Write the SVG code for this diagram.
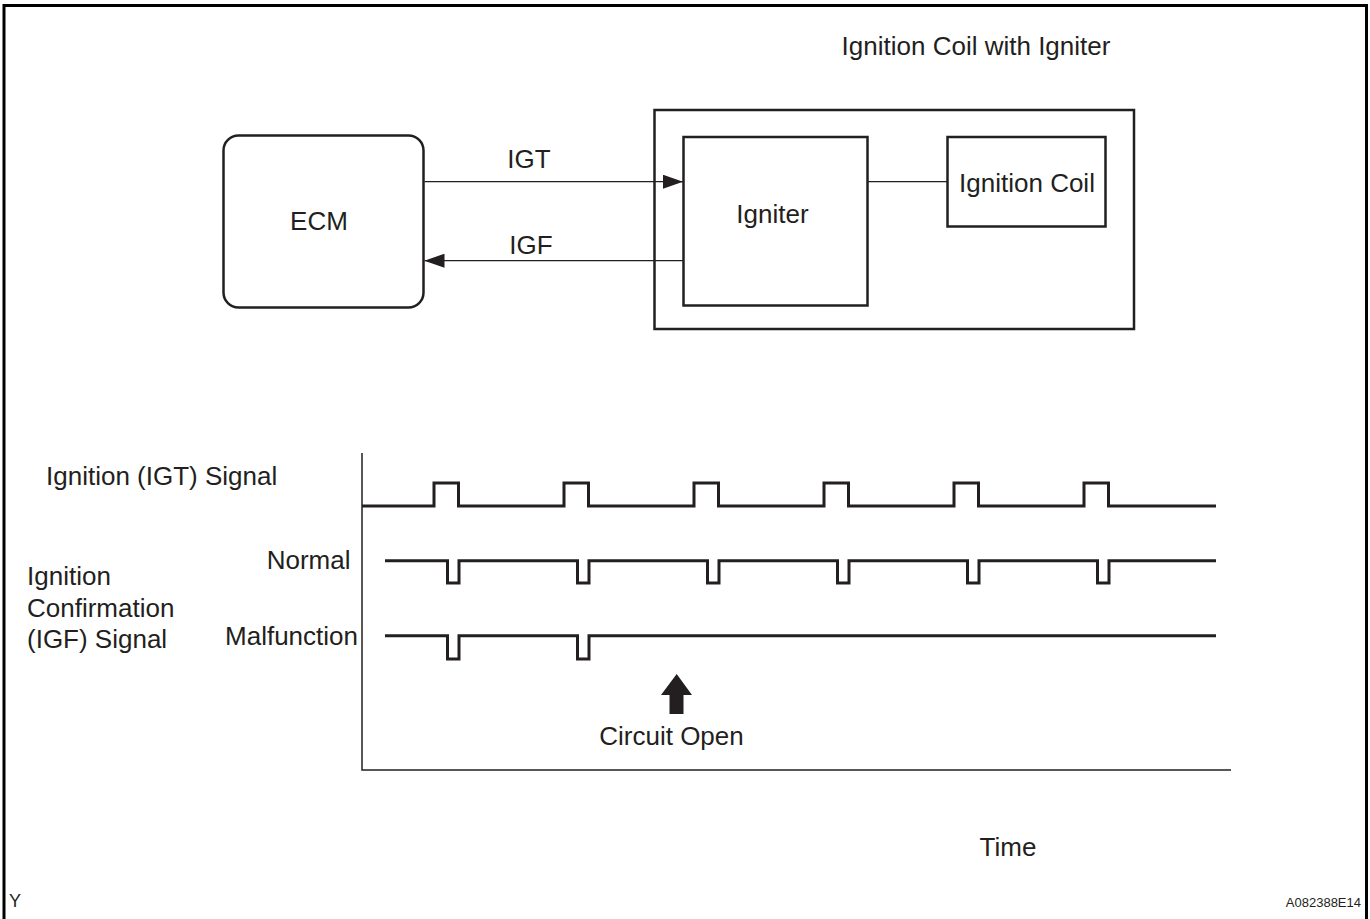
<svg xmlns="http://www.w3.org/2000/svg" width="1370" height="919" viewBox="0 0 1370 919">
<style>
text{font-family:"Liberation Sans",Arial,sans-serif;fill:#231f20}
.t26{font-size:26px}
.box{fill:none;stroke:#231f20;stroke-width:2.5}
.wire{fill:none;stroke:#231f20;stroke-width:1.3}
.wave{fill:none;stroke:#231f20;stroke-width:3;stroke-linejoin:miter}
.axis{fill:none;stroke:#231f20;stroke-width:1.5}
</style>
<defs>
<marker id="ah" viewBox="0 0 20 14" refX="20" refY="7" markerWidth="20" markerHeight="14" markerUnits="userSpaceOnUse" orient="auto">
<path d="M0,0 L20,7 L0,14 Z" fill="#231f20"/>
</marker>
</defs>
<rect width="1370" height="919" fill="#fff"/>
<path d="M4,925 V5.5 H1366.5 V925" fill="none" stroke="#000" stroke-width="3"/>

<g id="ecm">
<rect class="box" x="223.5" y="135.5" width="200" height="172" rx="15"/>
<text class="t26" x="319" y="230" text-anchor="middle">ECM</text>
</g>
<g id="ignition-coil-with-igniter">
<rect class="box" x="654.5" y="110" width="479.5" height="219"/>
<text class="t26" x="976" y="55" text-anchor="middle">Ignition Coil with Igniter</text>
</g>
<g id="igniter">
<rect class="box" x="683.5" y="137" width="184" height="168.5"/>
<text class="t26" x="772.5" y="223" text-anchor="middle">Igniter</text>
</g>
<g id="ignition-coil">
<rect class="box" x="947.5" y="137" width="158" height="89.5"/>
<text class="t26" x="1027" y="192" text-anchor="middle">Ignition Coil</text>
</g>
<g id="connectors">
<line class="wire" x1="424.5" y1="181.7" x2="683" y2="181.7" marker-end="url(#ah)"/>
<line class="wire" x1="683" y1="260.7" x2="424.5" y2="260.7" marker-end="url(#ah)"/>
<line class="wire" x1="868" y1="181.7" x2="947" y2="181.7"/>
<text class="t26" x="529" y="168" text-anchor="middle">IGT</text>
<text class="t26" x="531" y="253.5" text-anchor="middle">IGF</text>
</g>

<g id="chart">
<path class="axis" d="M362,453 V770 H1231"/>
<path class="wave" d="M362,506 H434 V483 H458.5 V506 H564 V483 H588.5 V506 H694 V483 H718.5 V506 H824 V483 H848.5 V506 H954 V483 H978.5 V506 H1084 V483 H1108.5 V506 H1216"/>
<path class="wave" d="M385,560.7 H447.5 V583 H459 V560.7 H577.5 V583 H589 V560.7 H707.5 V583 H719 V560.7 H837.5 V583 H849 V560.7 H967.5 V583 H979 V560.7 H1097.5 V583 H1109 V560.7 H1216"/>
<path class="wave" d="M385,635.7 H447.5 V659 H459 V635.7 H577.5 V659 H589 V635.7 H1216"/>
<path d="M676.7,674 L692,695 H683.5 V714 H669.5 V695 H661 Z" fill="#231f20"/>
<text class="t26" x="46" y="485">Ignition (IGT) Signal</text>
<text class="t26" x="350.5" y="569" text-anchor="end">Normal</text>
<text class="t26" x="358" y="645" text-anchor="end">Malfunction</text>
<text class="t26" x="27" y="585">Ignition</text>
<text class="t26" x="27" y="616.7">Confirmation</text>
<text class="t26" x="27" y="648">(IGF) Signal</text>
<text class="t26" x="671.5" y="745" text-anchor="middle">Circuit Open</text>
<text class="t26" x="1008" y="856" text-anchor="middle">Time</text>
</g>
<text x="9" y="907" style="font-size:18px">Y</text>
<text x="1361" y="907" text-anchor="end" style="font-size:13px">A082388E14</text>
</svg>
